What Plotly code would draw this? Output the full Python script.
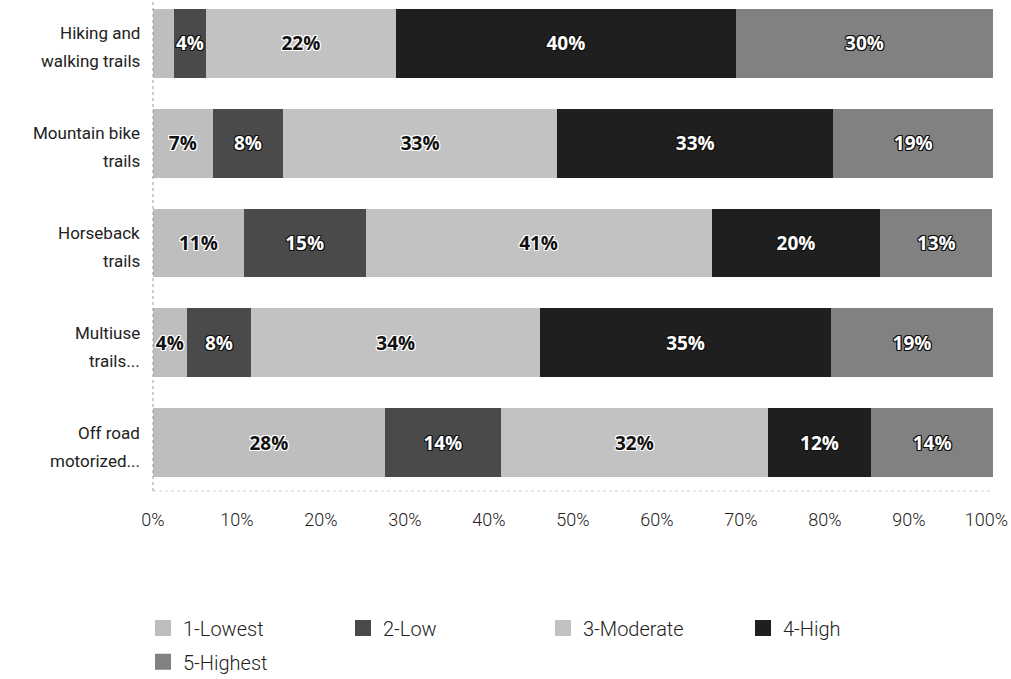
import plotly.graph_objects as go

categories = ["Hiking and walking trails", "Mountain bike trails", "Horseback trails",
              "Multiuse trails...", "Off road motorized..."]
label_line1 = ["Hiking and", "Mountain bike", "Horseback", "Multiuse", "Off road"]
label_line2 = ["walking trails", "trails", "trails", "trails...", "motorized..."]

series_names = ["1-Lowest", "2-Low", "3-Moderate", "4-High", "5-Highest"]
lowest = [2.5, 7.1, 10.8, 4.0, 27.6]
low = [3.8, 8.4, 14.5, 7.7, 13.8]
moderate = [22.6, 32.6, 41.2, 34.4, 31.8]
high = [40.5, 32.9, 20.1, 34.6, 12.3]
highest = [30.6, 19.0, 13.3, 19.3, 14.5]

lowest_lbl = ["", "7%", "11%", "4%", "28%"]
low_lbl = ["4%", "8%", "15%", "8%", "14%"]
moderate_lbl = ["22%", "33%", "41%", "34%", "32%"]
high_lbl = ["40%", "33%", "20%", "35%", "12%"]
highest_lbl = ["30%", "19%", "13%", "19%", "14%"]

x_ticks = [0, 10, 20, 30, 40, 50, 60, 70, 80, 90, 100]
x_tick_text = ["0%", "10%", "20%", "30%", "40%", "50%", "60%", "70%", "80%", "90%", "100%"]
# the last label is kept inside the chart edge, as in the original
x_tick_text_shown = x_tick_text[:-1] + [x_tick_text[-1] + "&nbsp;&nbsp;&nbsp;"]

colors = ["#bebebe", "#4a4a4a", "#c2c2c2", "#1f1f1f", "#818181"]
dark = [False, True, False, True, True]
legend_ids = ["legend", "legend", "legend", "legend", "legend2"]

white_outline = ("-1px -1px 0 #fff, 1px -1px 0 #fff, -1px 1px 0 #fff, 1px 1px 0 #fff, "
                 "0 1px 0 #fff, 0 -1px 0 #fff, 1px 0 0 #fff, -1px 0 0 #fff")
black_outline = ("-1px -1px 0 #111, 1px -1px 0 #111, -1px 1px 0 #111, 1px 1px 0 #111, "
                 "0 1px 0 #111, 0 -1px 0 #111, 1px 0 0 #111, -1px 0 0 #111")

fig = go.Figure()
for name, vals, lbls, col, dk in zip(series_names,
                                     [lowest, low, moderate, high, highest],
                                     [lowest_lbl, low_lbl, moderate_lbl, high_lbl, highest_lbl],
                                     colors, dark):
    fig.add_trace(go.Bar(
        y=categories, x=vals, name=name, orientation="h", showlegend=False,
        legendgroup=name,
        marker=dict(color=col, line=dict(width=0)),
        text=lbls, textposition="inside", insidetextanchor="middle", textangle=0,
        constraintext="none",
        textfont=dict(family="Open Sans", size=19, weight="bold",
                      color="#ffffff" if dk else "#111111",
                      shadow=black_outline if dk else white_outline),
        hoverinfo="skip",
    ))

# legend entries (larger square symbols)
for name, col, lg in zip(series_names, colors, legend_ids):
    fig.add_trace(go.Scatter(
        x=[None], y=[None], mode="markers", name=name, legendgroup=name,
        legend=lg, showlegend=True,
        marker=dict(symbol="square", size=16, color=col),
        hoverinfo="skip",
    ))

annotations = []
for cat, l1, l2 in zip(categories, label_line1, label_line2):
    for txt, ys in ((l1, 10), (l2, -18)):
        annotations.append(dict(
            x=0, xref="paper", y=cat, yref="y", text=txt, showarrow=False,
            xanchor="right", yanchor="middle", xshift=-11, yshift=ys,
            font=dict(family="Roboto", size=17, color="#222222"),
        ))

legend_font = dict(family="Roboto", size=20, color="#222222", weight=300)

fig.update_layout(
    width=1011, height=679,
    barmode="stack", bargap=0.31,
    margin=dict(l=153, r=18, t=0, b=188, autoexpand=False),
    paper_bgcolor="white", plot_bgcolor="white",
    font=dict(family="Roboto", size=17, color="#222222"),
    legend=dict(orientation="h", x=-0.0119, xanchor="left", y=-0.279, yanchor="middle",
                entrywidth=155, entrywidthmode="pixels", traceorder="normal",
                font=legend_font, bgcolor="rgba(0,0,0,0)", itemclick=False,
                itemdoubleclick=False),
    legend2=dict(orientation="h", x=-0.0119, xanchor="left", y=-0.348, yanchor="middle",
                 entrywidth=155, entrywidthmode="pixels", traceorder="normal",
                 font=legend_font, bgcolor="rgba(0,0,0,0)", itemclick=False,
                 itemdoubleclick=False),
    xaxis=dict(range=[0, 100], tickvals=x_ticks, ticktext=x_tick_text_shown, showgrid=False,
               zeroline=False, showline=False, ticks="", ticklabelstandoff=16,
               ticklabeloverflow="allow",
               tickfont=dict(family="Roboto", size=18, weight=300, color="#222222")),
    yaxis=dict(categoryorder="array", categoryarray=categories,
               range=[4.486, -0.436], showgrid=False, zeroline=False, showline=False,
               ticks="", showticklabels=False),
    annotations=annotations,
    shapes=[
        dict(type="line", xref="paper", yref="paper", x0=0, x1=0, y0=0, y1=1,
             line=dict(color="#999999", width=1, dash="dot")),
        dict(type="line", xref="paper", yref="paper", x0=0, x1=1, y0=0, y1=0,
             line=dict(color="#cccccc", width=1, dash="dot")),
    ],
)

fig.write_html("out.html", config={"displayModeBar": False},
               post_script="document.body.style.margin='0';")
